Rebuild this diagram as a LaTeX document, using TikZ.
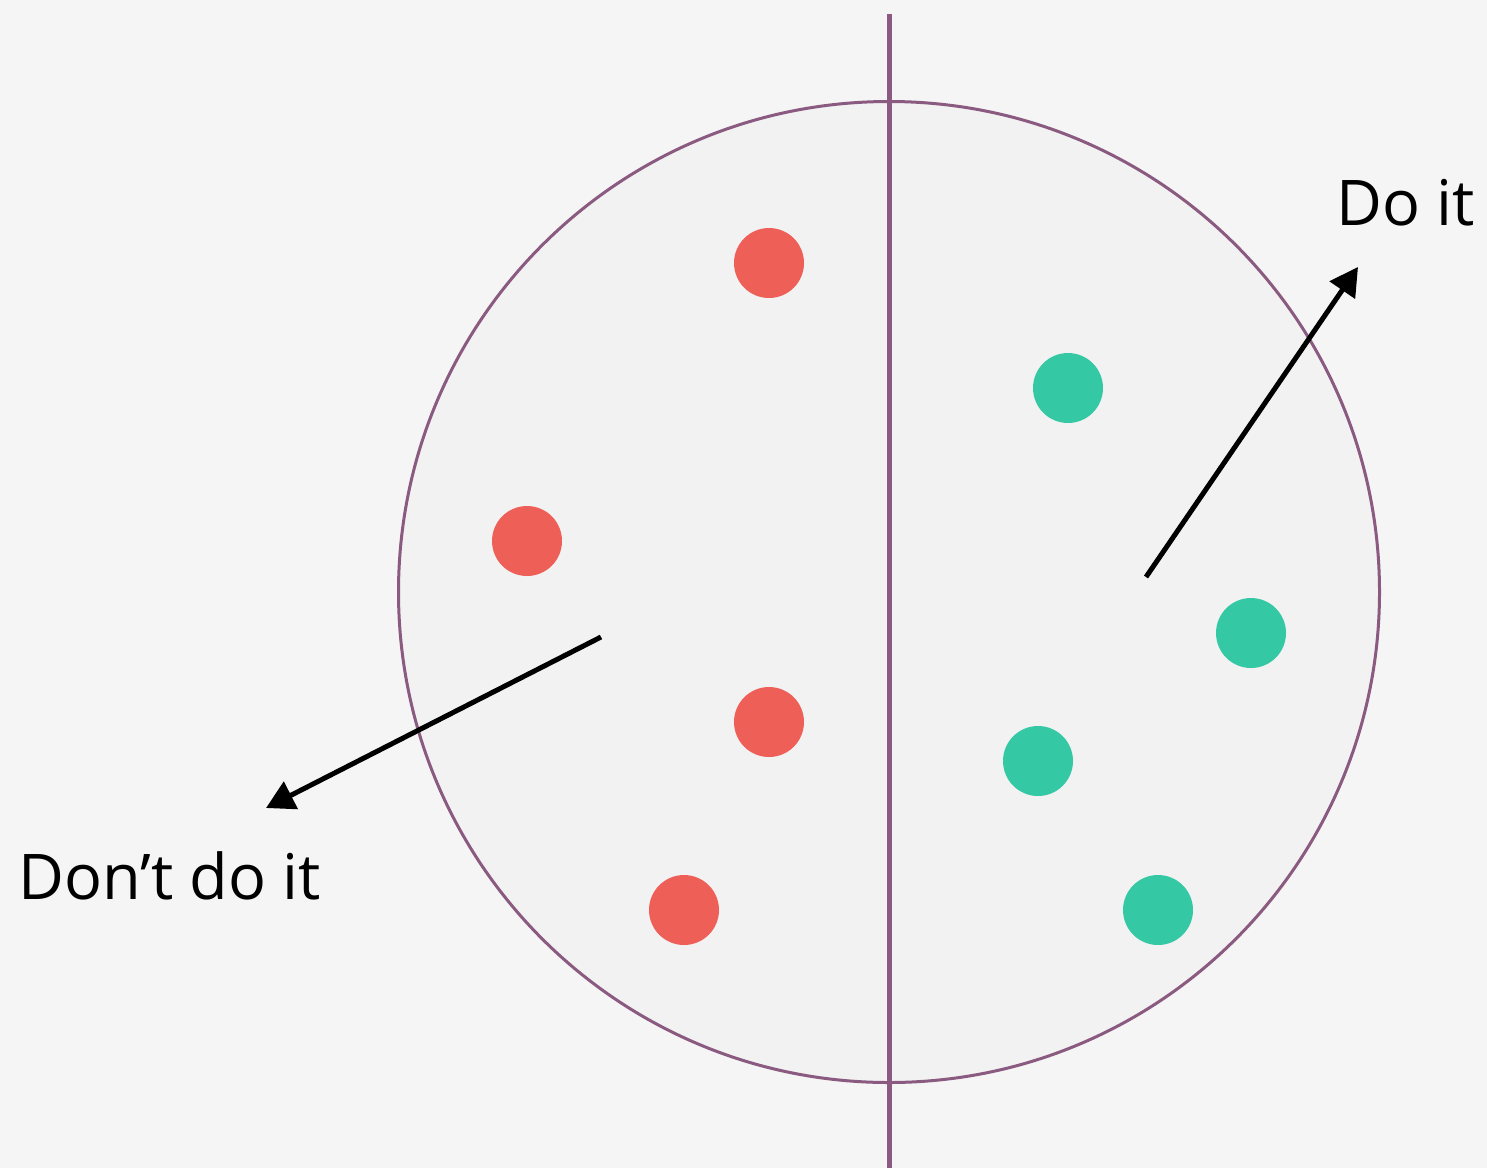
\documentclass[tikz,border=0pt]{standalone}
\usepackage{fontspec}
\setmainfont{Open Sans}
\usetikzlibrary{arrows.meta}
\definecolor{bgc}{HTML}{F5F5F5}
\definecolor{discfill}{HTML}{F2F2F2}
\definecolor{plum}{HTML}{8A5A80}
\definecolor{redd}{HTML}{EE5F58}
\definecolor{greend}{HTML}{35C8A5}
\tikzset{
  dot/.style={circle, inner sep=0pt, minimum size=70pt},
  reddot/.style={dot, fill=redd},
  greendot/.style={dot, fill=greend},
  lbl/.style={font=\fontsize{63}{70}\selectfont, inner sep=0pt, text=black},
  pointer/.style={line width=5pt, -{Triangle[length=28pt,width=30pt]}}
}
\begin{document}
\begin{tikzpicture}[x=1pt,y=-1pt]
\useasboundingbox (0,0) rectangle (1487,1168);
\fill[bgc] (0,0) rectangle (1487,1168);
\node[circle, draw=plum, line width=3pt, fill=discfill, minimum size=981pt, inner sep=0pt] (disc) at (889,592) {};
\coordinate (ltop) at (889,14);
\coordinate (lbot) at (889,1168);
\draw[plum, line width=5pt] (ltop) -- (lbot);
\node[reddot] (r1) at (769,263) {};
\node[reddot] (r2) at (527,541) {};
\node[reddot] (r3) at (769,722) {};
\node[reddot] (r4) at (684,910) {};
\node[greendot] (g1) at (1068,388) {};
\node[greendot] (g2) at (1251,633) {};
\node[greendot] (g3) at (1038,761) {};
\node[greendot] (g4) at (1158,910) {};
\coordinate (a1s) at (1146,577);
\coordinate (a1e) at (1358,267);
\coordinate (a2s) at (601,637);
\coordinate (a2e) at (266,808);
\draw[pointer] (a1s) -- (a1e);
\draw[pointer] (a2s) -- (a2e);
\node[lbl, anchor=base west] (doit) at (1336,225) {Do it};
\node[lbl, anchor=base west] (dont) at (18,899) {Don’t do it};
\end{tikzpicture}
\end{document}
